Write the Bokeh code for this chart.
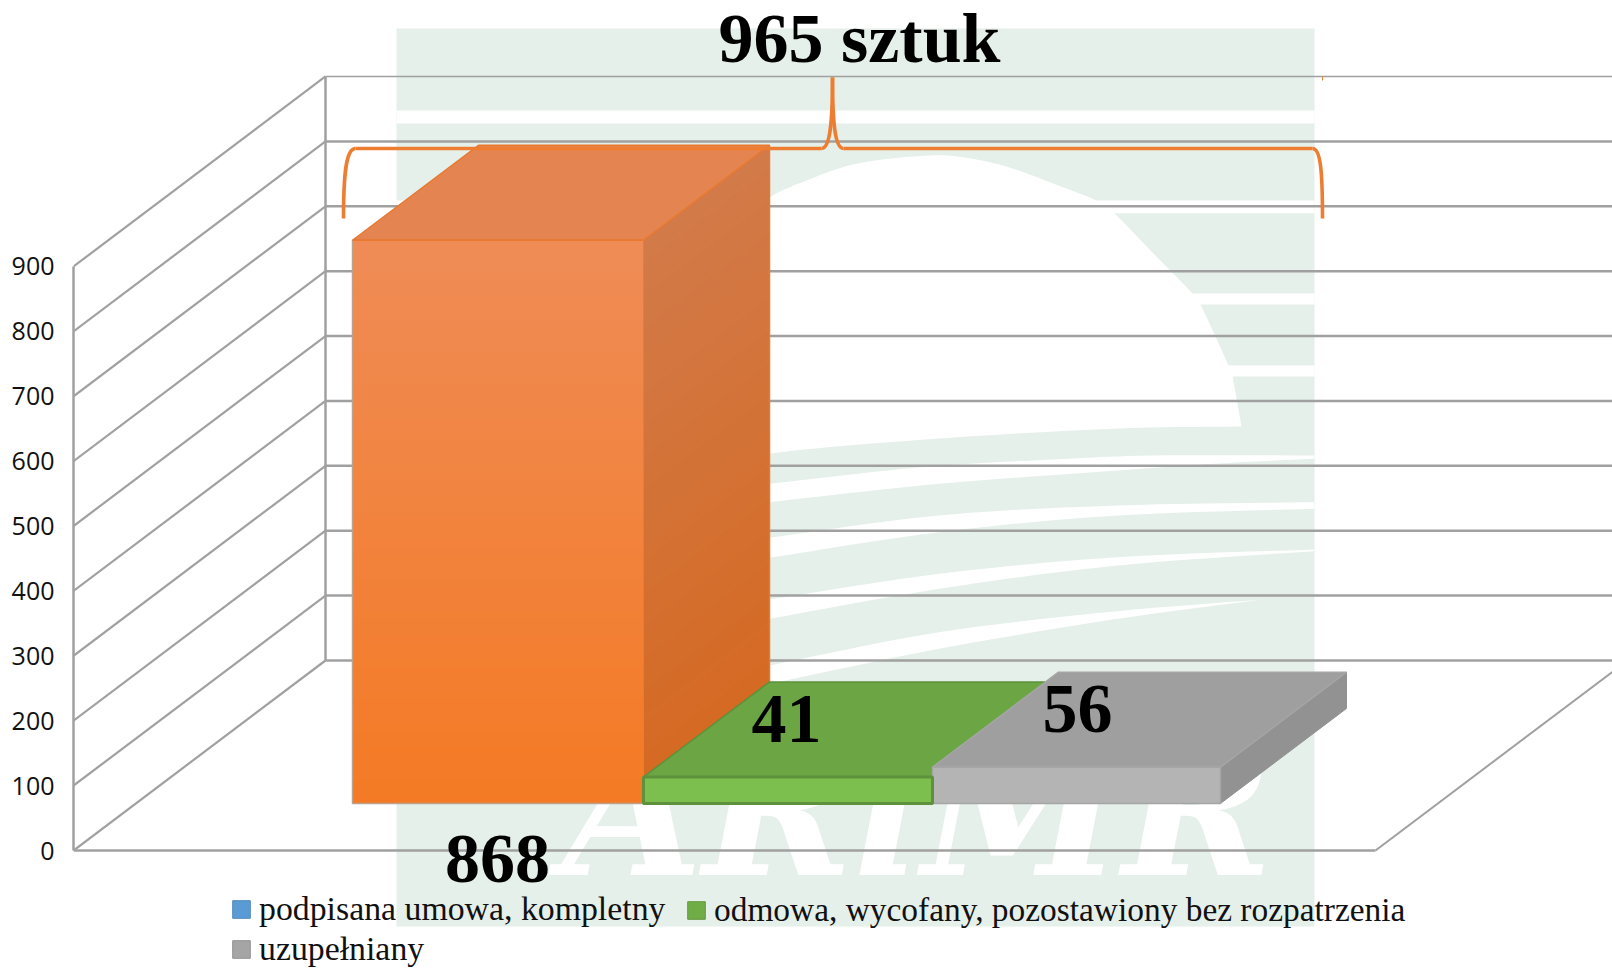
from bokeh.plotting import figure
from bokeh.models import Range1d, Legend, LegendItem, FixedTicker
from bokeh.core.properties import value
from bokeh.embed import file_html
from bokeh.resources import INLINE

# ---------- data ----------
categories = ["podpisana umowa, kompletny",
              "odmowa, wycofany, pozostawiony bez rozpatrzenia",
              "uzupełniany"]
values = [868, 41, 56]
total_label = "965 sztuk"
tick_values = [0, 100, 200, 300, 400, 500, 600, 700, 800, 900]
legend_colors = ["#5B9BD5", "#70AD47", "#A5A5A5"]

# ---------- layout of the oblique projection (page pixels) ----------
W, H = 1612, 969
PAGE_TOP = 0
Y0, K = 850.0, 0.6489        # page y of value 0 at the front, px per unit
WALL_DX, WALL_DY = 252.0, 190.0
FLOOR_RIGHT = 1375.0
WALL_LEFT = 73.0
BAR_EDGES = [352.0, 643.0, 932.0, 1220.0]
BAR_D0 = 0.2474
BAR_DEPTH = 0.5
NAN = float("nan")


def V(py):
    """page y -> value on the figure's y scale"""
    return (Y0 - py) / K


def pts(seq):
    return [q[0] for q in seq], [V(q[1]) for q in seq]


def smooth(seq, n=10):
    """Catmull-Rom sampling through outline points, for the watermark's curves"""
    out = []
    s = [seq[0]] + list(seq) + [seq[-1]]
    for i in range(1, len(s) - 2):
        p0, p1, p2, p3 = s[i - 1], s[i], s[i + 1], s[i + 2]
        for j in range(n):
            t = j / n
            out.append(tuple(
                0.5 * (2 * p1[k] + (p2[k] - p0[k]) * t + (2 * p0[k] - 5 * p1[k] + 4 * p2[k] - p3[k]) * t * t
                       + (3 * p1[k] - p0[k] - 3 * p2[k] + p3[k]) * t ** 3) for k in (0, 1)))
    out.append(seq[-1])
    return out


p = figure(width=W, height=H, output_backend="svg", toolbar_location=None,
           x_range=Range1d(WALL_LEFT, W),
           y_range=Range1d(V(PAGE_TOP + H), V(PAGE_TOP)),
           min_border_left=int(WALL_LEFT), min_border_right=0, min_border_top=0, min_border_bottom=0,
           outline_line_color=None, background_fill_color="white", border_fill_color="white")
p.grid.visible = False
p.xaxis.visible = False
ax = p.yaxis[0]
ax.ticker = FixedTicker(ticks=tick_values)
ax.bounds = (0, 900)
ax.axis_line_color = "#A0A0A0"
ax.axis_line_width = 2.5
ax.major_tick_line_color = None
ax.minor_tick_line_color = None
ax.major_tick_out = 0
ax.major_tick_in = 0
ax.major_label_standoff = 19
ax.major_label_text_font = "Open Sans"
ax.major_label_text_font_size = "25px"
ax.major_label_text_color = "#111111"

# ---------- watermark ----------
PALE = "#E6F0EA"
p.quad(left=[396], right=[1314], top=[V(28)], bottom=[V(926)], fill_color=PALE, line_color=None)
for a, b in [(110, 123), (200, 212.7), (293, 304), (365, 376)]:
    p.quad(left=[396], right=[1314], top=[V(a)], bottom=[V(b)], fill_color="white", line_color=None)
arc = [(740, 222), (769, 197), (806, 180), (857, 163), (929, 155), (970, 158),
       (1012, 168), (1063, 187), (1096, 200), (1114, 213), (1150, 250), (1192, 293), (1200, 304),
       (1228, 365), (1232, 376), (1241, 426)]
dome_base = [(1241, 426), (1117, 428), (939, 438), (769, 453), (700, 470)]
x, y = pts([(700, 250)] + smooth(arc) + smooth(dome_base))
p.patch(x, y, fill_color="white", line_color=None)
Z = lambda zx, zy: (760 + zx / 2.8, 400 + zy / 3.0)
stripes = [
    ([(25, 250), (450, 200), (800, 178), (1100, 165), (1550, 165)],
     [(1550, 175), (1300, 188), (1000, 210), (500, 250), (25, 305)]),
    ([(25, 412), (500, 345), (1000, 315), (1550, 305)],
     [(1550, 325), (1000, 345), (500, 395), (25, 472)]),
    ([(25, 597), (500, 520), (1000, 470), (1550, 447)],
     [(1550, 452), (1000, 495), (500, 565), (25, 655)]),
    ([(25, 795), (500, 695), (1000, 632), (1400, 598)],
     [(1400, 598), (1000, 655), (500, 745), (25, 850)]),
]
for top, bot in stripes:
    x, y = pts(smooth([Z(*q) for q in top]) + smooth([Z(*q) for q in bot]))
    p.patch(x, y, fill_color="white", line_color=None)

LOGO_PX = 181
p.text(x=[562], y=[V(878 - 0.37 * LOGO_PX)], text=["ARiMR"], text_color="white",
       text_font=value("DejaVu Serif"), text_font_style="bold italic",
       text_font_size=f"{LOGO_PX}px", text_align="left", text_baseline="alphabetic")

# ---------- walls and floor ----------
GRID = "#A0A0A0"
for t in tick_values:
    back = t + WALL_DY / K
    lw = 1.6 if t == 900 else 2.5
    p.line([WALL_LEFT + WALL_DX, W], [back, back], line_color=GRID, line_width=lw)
    p.line([WALL_LEFT, WALL_LEFT + WALL_DX], [t, back], line_color=GRID, line_width=2.2)
p.line([WALL_LEFT + WALL_DX] * 2, [WALL_DY / K, 900 + WALL_DY / K], line_color=GRID, line_width=2.5)
p.line([WALL_LEFT, FLOOR_RIGHT], [0, 0], line_color=GRID, line_width=2.5)
p.line([FLOOR_RIGHT, FLOOR_RIGHT + WALL_DX], [0, WALL_DY / K], line_color=GRID, line_width=2)

# ---------- 3D bars ----------
base = BAR_D0 * WALL_DY / K
ddx = BAR_DEPTH * WALL_DX
ddv = BAR_DEPTH * WALL_DY / K


def hex_mix(a, b, t):
    ca = [int(a[i:i + 2], 16) for i in (1, 3, 5)]
    cb = [int(b[i:i + 2], 16) for i in (1, 3, 5)]
    return "#%02X%02X%02X" % tuple(round(u + (w - u) * t) for u, w in zip(ca, cb))


def faces(i):
    xl, xr = BAR_EDGES[i], BAR_EDGES[i + 1]
    tv = base + values[i]
    top = ([xl, xr, xr + ddx, xl + ddx], [tv, tv, tv + ddv, tv + ddv])
    side = ([xr, xr + ddx, xr + ddx, xr], [base, base + ddv, tv + ddv, tv])
    return xl, xr, tv, top, side


# orange bar with a vertical shading: painted from the top down, each layer reaching to the base
xl, xr, tv, top, side = faces(0)
N = 70
for j in range(N, 0, -1):
    t = j / N
    v1 = values[0] * t
    p.quad(left=[xl], right=[xr], bottom=[base], top=[base + v1],
           fill_color=hex_mix("#F47A24", "#EF8C56", t), line_color=None)
    p.patch([xr, xr + ddx, xr + ddx, xr], [base, base + ddv, base + ddv + v1, base + v1],
            fill_color=hex_mix("#D56921", "#D27A49", t), line_color=None)
p.patch(*top, fill_color="#E38451", line_color="#E8792F", line_width=1.5)
p.line(side[0][1:], side[1][1:], line_color="#E8792F", line_width=1)
p.line([xr + ddx, xr + ddx], [base + ddv, tv + ddv], line_color="#E8792F", line_width=1.5)
p.line([xl, xl, xr], [tv, base, base], line_color="#BDA18D", line_width=1.5)
p.line([xl, xr], [tv, tv], line_color="#E8792F", line_width=1.5)
p.line([xr, xr], [base, tv], line_color="#E07E3E", line_width=1)

# green top, below the grey one
xl, xr, tv, top, side = faces(1)
p.patch(*top, fill_color="#6BA544", line_color="#5E913C", line_width=1.5)
green_front = (xl, xr, tv)

# grey bar
xl, xr, tv, top, side = faces(2)
p.patch(*side, fill_color="#929292", line_color="#929292", line_width=1)
p.patch(*top, fill_color="#9F9F9F", line_color="#A5A5A5", line_width=1.5)
p.quad(left=[xl], right=[xr], bottom=[base], top=[tv], fill_color="#B4B4B4", line_color="#A5A5A5", line_width=1.5)

# green front
xl, xr, tv = green_front
p.quad(left=[xl], right=[xr], bottom=[base], top=[tv], fill_color="#7CBF4F", line_color="#5E913C", line_width=3)

# ---------- data labels and total ----------
LABEL_PX = 70
shift = 0.33 * LABEL_PX
lab = dict(text_font=value("Liberation Serif"), text_font_style="bold", text_font_size=f"{LABEL_PX}px",
           text_color="black", text_align="center", text_baseline="alphabetic")
p.text(x=[497, 786, 1077], y=[V(882 - shift), V(742 - shift), V(732 - shift)], text=[str(v) for v in values], **lab)
p.text(x=[859], y=[V(61 - shift)], text=[total_label], **lab)

# ---------- brace ----------
BR = dict(line_color="#ED7D31", line_width=3.6)
y148 = V(148)
p.bezier(x0=[343], y0=[V(218)], x1=[355], y1=[y148], cx0=[343], cy0=[V(170)], cx1=[346], cy1=[y148], **BR)
p.line([355, 821], [y148, y148], **BR)
p.bezier(x0=[821], y0=[y148], x1=[832], y1=[V(77)], cx0=[830], cy0=[y148], cx1=[832], cy1=[V(120)], **BR)
p.bezier(x0=[832], y0=[V(77)], x1=[843], y1=[y148], cx0=[832], cy0=[V(120)], cx1=[834], cy1=[y148], **BR)
p.line([843, 1312], [y148, y148], **BR)
p.bezier(x0=[1312], y0=[y148], x1=[1322], y1=[V(218)], cx0=[1320], cy0=[y148], cx1=[1322], cy1=[V(170)], **BR)
p.line([1322, 1322], [V(76), V(80)], line_color="#ED7D31", line_width=1)

# ---------- legend ----------
items = []
for name, col in zip(categories, legend_colors):
    r = p.quad(left=[NAN], right=[NAN], top=[NAN], bottom=[NAN], fill_color=col,
               line_color=hex_mix(col, "#000000", 0.12), line_width=1)
    items.append(LegendItem(label=value(name), renderers=[r]))
leg = dict(glyph_width=22, glyph_height=22, label_standoff=7, padding=0, margin=0,
           border_line_color=None, background_fill_alpha=0,
           label_text_font="Liberation Serif", label_text_color="#111111")
p.add_layout(Legend(items=[items[0], items[2]], location=(230 - WALL_LEFT, 1), spacing=2,
                    label_text_font_size="33.8px", **leg), "center")
p.add_layout(Legend(items=[items[1]], location=(685 - WALL_LEFT, 40),
                    label_text_font_size="33.4px", **leg), "center")

open("out.html", "w").write(file_html(p, INLINE))
